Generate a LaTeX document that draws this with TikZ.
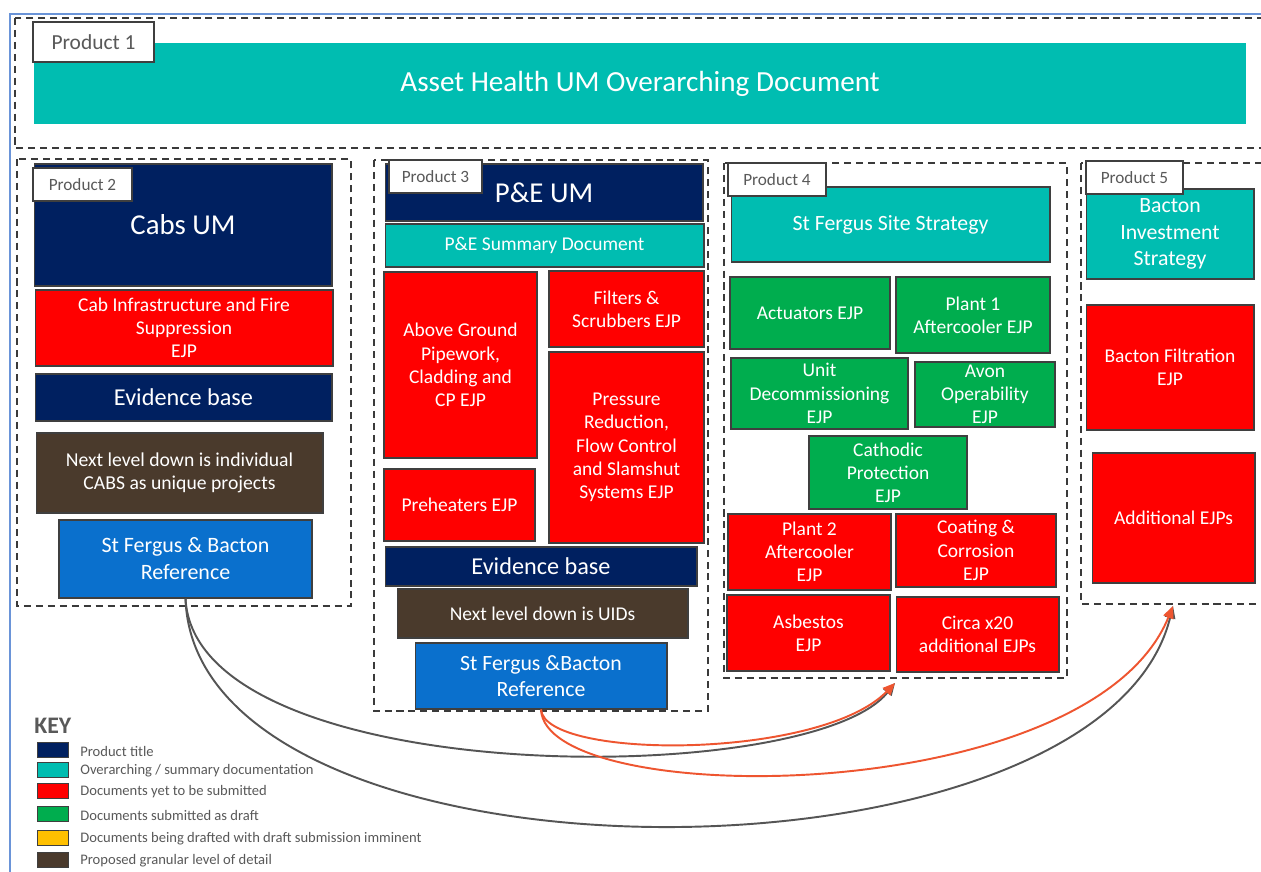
\documentclass[tikz,border=0pt]{standalone}
\usepackage{fontspec}
\setmainfont{Carlito}
\usetikzlibrary{arrows.meta}
\definecolor{navydoc}{HTML}{002060}
\definecolor{tealdoc}{HTML}{00BDB1}
\definecolor{reddoc}{HTML}{FF0000}
\definecolor{greendoc}{HTML}{00AD4E}
\definecolor{refblue}{HTML}{0A70CD}
\definecolor{wood}{HTML}{4A3A2C}
\definecolor{golddoc}{HTML}{FFC000}
\definecolor{boxline}{HTML}{3F3F3F}
\definecolor{taggray}{HTML}{595959}
\definecolor{frameline}{HTML}{3A3A3A}
\definecolor{pageblue}{HTML}{6A94D8}
\definecolor{linkgray}{HTML}{555555}
\definecolor{linkorange}{HTML}{EE5530}
\begin{document}
\begin{tikzpicture}[x=0.02cm,y=-0.02cm,
  doc/.style={draw=boxline,line width=0.6pt,text=white,align=center,inner sep=0pt,font=\fontsize{11.1}{13.2}\selectfont},
  tag/.style={draw=boxline,fill=white,line width=0.6pt,text=taggray,inner sep=0pt,font=\fontsize{9.8}{11}\selectfont,minimum height=0.66cm},
  product/.style={draw=frameline,dash pattern=on 4pt off 2.8pt,line width=0.7pt},
  swatch/.style={draw=boxline,line width=0.5pt,minimum width=0.62cm,minimum height=0.3cm,inner sep=0pt},
  keytext/.style={anchor=west,text=taggray,inner sep=0pt,font=\fontsize{8.3}{10}\selectfont},
  link/.style={line width=1.1pt,-{Triangle[length=7pt,width=6pt]}}]

       \useasboundingbox (0,0) rectangle (1261,872);
       \clip (0,0) rectangle (1261,872);
       \fill[white] (0,0) rectangle (1261,872);
       \draw[pageblue, line width=0.9pt] (10,880) -- (10,14) -- (1270,14);

       \draw[product] (15,18) rectangle (1280,148);
       \draw[product] (17,159) rectangle (351,606);
       \draw[product] (374,160) rectangle (708,711);
       \draw[product] (724,163) rectangle (1067,678);
       \draw[product] (1081,163) rectangle (1280,604);

       \node[doc, fill=tealdoc, draw=tealdoc, minimum width=24.24cm, minimum height=1.58cm, font=\fontsize{16.6}{19}\selectfont] (overarching) at (640,83.5) {Asset Health UM Overarching Document};
       \node[tag, minimum width=2.42cm, minimum height=0.8cm, font=\fontsize{12.2}{14}\selectfont] (tag1) at (93.5,42) {Product 1};

       \node[doc, fill=navydoc, minimum width=5.96cm, minimum height=2.44cm, font=\fontsize{16.4}{19}\selectfont] (cabsum) at (183,225) {Cabs UM};
       \node[tag, minimum width=1.98cm] (tag2) at (82.5,184.5) {Product 2};
       \node[doc, fill=reddoc, minimum width=5.96cm, minimum height=1.52cm] (cabinfra) at (184,328) {Cab Infrastructure and Fire\\Suppression\\EJP};
       \node[doc, fill=navydoc, minimum width=5.94cm, minimum height=0.94cm, font=\fontsize{13.8}{16}\selectfont] (evidenceA) at (183.5,397.5) {Evidence base};
       \node[doc, fill=wood, minimum width=5.74cm, minimum height=1.6cm, font=\fontsize{11.2}{13}\selectfont] (cabslevel) at (179.5,473) {Next level down is individual\\CABS as unique projects};
       \node[doc, fill=refblue, minimum width=5.06cm, minimum height=1.56cm, font=\fontsize{12.5}{15.3}\selectfont] (refA) at (185.5,559) {St Fergus \& Bacton\\Reference};

       \node[doc, fill=navydoc, minimum width=6.36cm, minimum height=1.14cm, font=\fontsize{16.4}{19}\selectfont] (peum) at (544,192.5) {P\&E UM};
       \node[tag, minimum width=1.86cm] (tag3) at (435.5,176.5) {Product 3};
       \node[doc, fill=tealdoc, minimum width=6.38cm, minimum height=0.86cm] (pesummary) at (544.5,245.5) {P\&E Summary Document};
       \node[doc, fill=reddoc, minimum width=3.06cm, minimum height=3.72cm] (pipework) at (460.5,365) {Above Ground\\Pipework,\\Cladding and\\CP EJP};
       \node[doc, fill=reddoc, minimum width=3.1cm, minimum height=1.52cm] (filters) at (626.5,309) {Filters \&\\Scrubbers EJP};
       \node[doc, fill=reddoc, minimum width=3.1cm, minimum height=3.82cm] (pressure) at (626.5,447.5) {Pressure\\Reduction,\\Flow Control\\and Slamshut\\Systems EJP};
       \node[doc, fill=reddoc, minimum width=3.02cm, minimum height=1.44cm] (preheaters) at (459.5,505) {Preheaters EJP};
       \node[doc, fill=navydoc, minimum width=6.24cm, minimum height=0.78cm, font=\fontsize{13.8}{16}\selectfont] (evidenceB) at (541,566.5) {Evidence base};
       \node[doc, fill=wood, minimum width=5.82cm, minimum height=0.98cm] (uidlevel) at (542.5,613.5) {Next level down is UIDs};
       \node[doc, fill=refblue, minimum width=5.04cm, minimum height=1.32cm, font=\fontsize{12.4}{14.8}\selectfont] (refB) at (541,676) {St Fergus \&Bacton\\Reference};

       \node[doc, fill=tealdoc, minimum width=6.38cm, minimum height=1.5cm, font=\fontsize{12.4}{15}\selectfont] (fergusstrategy) at (890.5,224.5) {St Fergus Site Strategy};
       \node[tag, minimum width=1.96cm] (tag4) at (777,179.5) {Product 4};
       \node[doc, fill=greendoc, minimum width=3.2cm, minimum height=1.44cm] (actuators) at (810,313) {Actuators EJP};
       \node[doc, fill=greendoc, minimum width=3.08cm, minimum height=1.52cm] (plantone) at (973,315) {Plant 1\\Aftercooler EJP};
       \node[doc, fill=greendoc, minimum width=3.54cm, minimum height=1.42cm] (decom) at (819.5,393.5) {Unit\\Decommissioning\\EJP};
       \node[doc, fill=greendoc, minimum width=2.8cm, minimum height=1.3cm] (avon) at (985,394.5) {Avon\\Operability\\EJP};
       \node[doc, fill=greendoc, minimum width=3.16cm, minimum height=1.46cm] (cathodic) at (888,472.5) {Cathodic\\Protection\\EJP};
       \node[doc, fill=reddoc, minimum width=3.26cm, minimum height=1.52cm] (planttwo) at (809.5,552) {Plant 2\\Aftercooler\\EJP};
       \node[doc, fill=reddoc, minimum width=3.2cm, minimum height=1.46cm] (coating) at (976,550.5) {Coating \&\\Corrosion\\EJP};
       \node[doc, fill=reddoc, minimum width=3.26cm, minimum height=1.52cm] (asbestos) at (808.5,633) {Asbestos\\EJP};
       \node[doc, fill=reddoc, minimum width=3.26cm, minimum height=1.5cm] (circa) at (977.5,634.5) {Circa x20\\additional EJPs};

       \node[doc, fill=tealdoc, minimum width=3.36cm, minimum height=1.8cm, font=\fontsize{12.4}{15}\selectfont] (bactonstrategy) at (1170,234) {Bacton\\Investment\\Strategy};
       \node[tag, minimum width=1.94cm] (tag5) at (1134.5,177.5) {Product 5};
       \node[doc, fill=reddoc, minimum width=3.36cm, minimum height=2.5cm] (filtration) at (1170,367.5) {Bacton Filtration\\EJP};
       \node[doc, fill=reddoc, minimum width=3.26cm, minimum height=2.6cm] (additional) at (1173.5,518) {Additional EJPs};

       \coordinate (tipA) at (895,683);
       \coordinate (tipB) at (1173,606);
       \draw[link, linkgray] (refA.south) .. controls (195,790) and (810,790) .. (tipA);
       \draw[link, linkgray] (refA.south) .. controls (195,900) and (1100,900) .. (tipB);
       \draw[link, linkorange] (refB.south) .. controls (545,760) and (820,760) .. (tipA);
       \draw[link, linkorange] (refB.south) .. controls (545,810) and (1090,810) .. (tipB);

       \node[anchor=west, inner sep=0pt, text=taggray, font=\fontsize{13.5}{16}\selectfont\bfseries] (keytitle) at (34,726) {KEY};
       \node[swatch, fill=navydoc] (keyA) at (52.5,750) {};
       \node[swatch, fill=tealdoc] (keyB) at (52.5,770) {};
       \node[swatch, fill=reddoc] (keyC) at (52.5,791) {};
       \node[swatch, fill=greendoc] (keyD) at (52.5,814) {};
       \node[swatch, fill=golddoc] (keyE) at (52.5,838) {};
       \node[swatch, fill=wood] (keyF) at (52.5,860) {};
       \node[keytext] at (80,751) {Product title};
       \node[keytext] at (80,771) {Overarching / summary documentation};
       \node[keytext] at (80,792) {Documents yet to be submitted};
       \node[keytext] at (80,815) {Documents submitted as draft};
       \node[keytext] at (80,839) {Documents being drafted with draft submission imminent};
       \node[keytext] at (80,861) {Proposed granular level of detail};
     \end{tikzpicture}
\end{document}
